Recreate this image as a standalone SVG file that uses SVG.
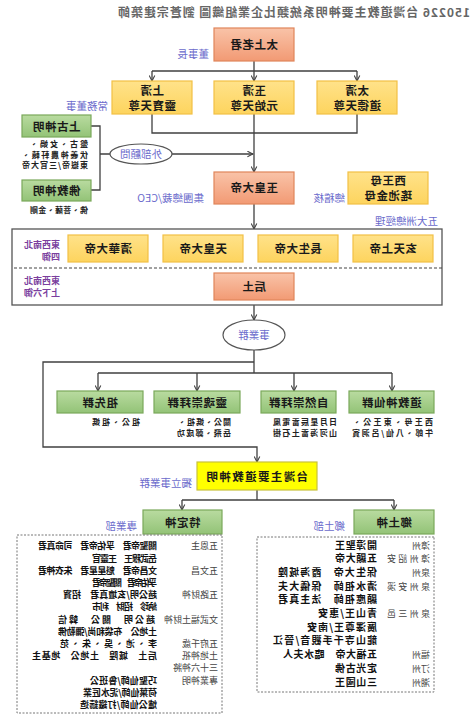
<svg xmlns="http://www.w3.org/2000/svg" width="474" height="719" viewBox="0 0 474 719">
<style>
text{font-family:"Noto Sans CJK TC","Noto Sans CJK SC",sans-serif}
.t{font-size:11.5px;font-weight:700;fill:#1a1a1a;text-anchor:middle;letter-spacing:0.5px}
.lbl{font-size:10.5px;fill:#6b6bcc}
.pur{font-size:9px;fill:#7b3f9e;font-weight:700}
.sm{font-size:8px;font-weight:700;fill:#222}
.cat{font-size:9px;fill:#444}
.it{font-size:9px;font-weight:700;fill:#111}
.rit{font-size:10px;font-weight:700;fill:#111}
.sal{fill:url(#gs);stroke:#e0855a;stroke-width:1.2}
.yel{fill:url(#gy);stroke:#f2c045;stroke-width:1.2}
.grn{fill:url(#gg);stroke:#7aa85a;stroke-width:1.2}
.ln{fill:none;stroke:#404040;stroke-width:1.3}
.ar{marker-end:url(#ah)}
.ell{fill:#fff;stroke:#555;stroke-width:1.2}
.dot{fill:none;stroke:#777;stroke-width:1;stroke-dasharray:2 1.5}
</style>
<defs>
<linearGradient id="gs" x1="0" y1="0" x2="0" y2="1"><stop offset="0" stop-color="#f9c3a8"/><stop offset="1" stop-color="#f29a74"/></linearGradient>
<linearGradient id="gy" x1="0" y1="0" x2="0" y2="1"><stop offset="0" stop-color="#ffe28a"/><stop offset="1" stop-color="#fdd45e"/></linearGradient>
<linearGradient id="gg" x1="0" y1="0" x2="0" y2="1"><stop offset="0" stop-color="#b9dba0"/><stop offset="1" stop-color="#93c377"/></linearGradient>
<marker id="ah" viewBox="0 0 10 10" refX="9" refY="5" markerWidth="7" markerHeight="7" orient="auto" markerUnits="userSpaceOnUse"><path d="M1,1 L9,5 L1,9" fill="none" stroke="#404040" stroke-width="1.5"/></marker>
</defs>
<rect x="0" y="0" width="474" height="719" fill="#fff"/>
<g transform="matrix(-1 0 0 1 474 0)">
<text id="title" x="4" y="17" font-size="12" font-weight="700" fill="#666" textLength="352" lengthAdjust="spacing">150226 台灣道教主要神明系統類比企業組織圖 劉蒼宗建築師</text>

<g id="connectors">
<path class="ln" d="M220,61 V71 M117,71 H322"/>
<path class="ln ar" d="M117,71 V81"/>
<path class="ln ar" d="M220,71 V81"/>
<path class="ln ar" d="M322,71 V81"/>
<path class="ln" d="M117,114 V133 H322 V114"/>
<path class="ln ar" d="M220,114 V172"/>
<path class="ln" d="M383,126 H374 V190 H383 M374,154 H364"/>
<path class="ln ar" d="M302,154 H221"/>
<path class="ln ar" d="M220,204 V229"/>
<path class="ln ar" d="M220,305 V320"/>
<path class="ln" d="M220,350 V373 M82,373 H376"/>
<path class="ln ar" d="M82,373 V391"/>
<path class="ln ar" d="M180,373 V391"/>
<path class="ln ar" d="M277,373 V391"/>
<path class="ln ar" d="M376,373 V391"/>
<path class="ln ar" d="M220,362 H431 V447 H217 V462"/>
<path class="ln" d="M217,490 V500 M80,500 H292"/>
<path class="ln ar" d="M80,500 V510"/>
<path class="ln ar" d="M292,500 V510"/>
</g>

<g id="labels">
<text class="lbl" x="265" y="58">董事長</text>
<text class="lbl" x="366" y="110">常務董事</text>
<text class="lbl" x="270" y="202">集團總裁/CEO</text>
<text class="lbl" x="129" y="202">總稽核</text>
<text class="lbl" x="36" y="225">五大洲總經理</text>
<text class="lbl" x="282" y="487">獨立事業群</text>
<text class="lbl" x="337" y="530">專業部</text>
<text class="lbl" x="129" y="530">鄉土部</text>
</g>

<g id="n-taishang"><rect class="sal" x="180" y="28" width="80" height="33"/><text class="t" x="220" y="49">太上老君</text></g>
<g id="n-taiqing"><rect class="yel" x="77" y="81" width="80" height="33"/><text class="t" x="117" y="94.5">太清</text><text class="t" x="117" y="109.5">道德天尊</text></g>
<g id="n-yuqing"><rect class="yel" x="180" y="81" width="80" height="33"/><text class="t" x="220" y="94.5">玉清</text><text class="t" x="220" y="109.5">元始天尊</text></g>
<g id="n-shangqing"><rect class="yel" x="282" y="81" width="80" height="33"/><text class="t" x="322" y="94.5">上清</text><text class="t" x="322" y="109.5">靈寶天尊</text></g>

<g id="n-shanggu"><rect class="grn" x="383" y="115" width="69" height="22"/><text class="t" x="417.5" y="130.5">上古神明</text>
<text class="sm" x="386" y="147" textLength="58" lengthAdjust="spacing">盤古、女媧、</text>
<text class="sm" x="386" y="157.5" textLength="66" lengthAdjust="spacing">伏羲神農軒轅、</text>
<text class="sm" x="386" y="168" textLength="66" lengthAdjust="spacing">東嶽帝/三官大帝</text></g>
<g id="n-fojiao"><rect class="grn" x="383" y="180" width="69" height="21"/><text class="t" x="417.5" y="195">佛教神明</text>
<text class="sm" x="386" y="213" textLength="58" lengthAdjust="spacing">佛、菩薩、金剛</text></g>
<g id="n-waibu"><ellipse class="ell" cx="333" cy="154" rx="31" ry="10"/><text class="lbl" x="333" y="157.5" text-anchor="middle">外部顧問</text></g>

<g id="n-yuhuang"><rect class="sal" x="180" y="172" width="80" height="32"/><text class="t" x="220" y="192">玉皇大帝</text></g>
<g id="n-xiwangmu"><rect class="yel" x="46" y="172" width="80" height="32"/><text class="t" x="86" y="184.5">西王母</text><text class="t" x="86" y="200">瑤池金母</text></g>

<g id="n-liuyu">
<rect x="32" y="229" width="430" height="76" fill="#fff" stroke="#555" stroke-width="1.3"/>
<line x1="32" y1="268" x2="462" y2="268" stroke="#444" stroke-width="1.2" stroke-dasharray="3 2"/>
<text class="pur" x="414" y="248">東西南北</text><text class="pur" x="414" y="260">四御</text>
<text class="pur" x="414" y="283.5">東西南北</text><text class="pur" x="414" y="295.5">上下六御</text>
</g>
<g id="n-qinghua"><rect class="yel" x="326" y="235" width="80" height="27"/><text class="t" x="366" y="253">清華大帝</text></g>
<g id="n-tianhuang"><rect class="yel" x="231" y="235" width="80" height="27"/><text class="t" x="271" y="253">天皇大帝</text></g>
<g id="n-changsheng"><rect class="yel" x="136" y="235" width="80" height="27"/><text class="t" x="176" y="253">長生大帝</text></g>
<g id="n-xuantian"><rect class="yel" x="41" y="235" width="80" height="27"/><text class="t" x="81" y="253">玄天上帝</text></g>
<g id="n-houtu"><rect class="sal" x="180" y="273" width="80" height="27"/><text class="t" x="220" y="291">后土</text></g>

<g id="n-shiyequn"><ellipse class="ell" cx="220" cy="335" rx="31" ry="15"/><text class="lbl" x="220" y="339" text-anchor="middle">事業群</text></g>

<g id="n-daojiao"><rect class="grn" x="40" y="391" width="85" height="22"/><text class="t" x="82.5" y="406.5">道教神仙群</text>
<text class="sm" x="41" y="424.5" textLength="80" lengthAdjust="spacing">西王母、東王公、</text>
<text class="sm" x="41" y="435.5" textLength="81" lengthAdjust="spacing">牛郎、八仙/呂洞賓</text></g>
<g id="n-ziran"><rect class="grn" x="138" y="391" width="75" height="22"/><text class="t" x="175.5" y="406.5">自然崇拜群</text>
<text class="sm" x="137" y="424.5" textLength="64" lengthAdjust="spacing">日月星辰雷電風</text>
<text class="sm" x="137" y="435.5" textLength="64" lengthAdjust="spacing">山河海雷土石樹</text></g>
<g id="n-linghun"><rect class="grn" x="234" y="391" width="86" height="22"/><text class="t" x="277" y="406.5">靈魂崇拜群</text>
<text class="sm" x="243" y="424.5" textLength="53" lengthAdjust="spacing">關公、媽祖、</text>
<text class="sm" x="243" y="435.5" textLength="54" lengthAdjust="spacing">岳飛、鄭成功</text></g>
<g id="n-zuxian"><rect class="grn" x="331" y="391" width="86" height="22"/><text class="t" x="374" y="406.5">祖先群</text>
<text class="sm" x="334" y="424.5" textLength="48" lengthAdjust="spacing">祖公、祖媽</text></g>

<g id="n-taiwan"><rect x="157" y="462" width="120" height="28" fill="#ffff00" stroke="#c9c23a" stroke-width="1.2"/><text class="t" x="217" y="480.5" textLength="102" lengthAdjust="spacing">台灣主要道教神明</text></g>

<g id="n-teding"><rect class="grn" x="252" y="510" width="79" height="24"/><text class="t" x="291.5" y="526.5">特定神</text>
<rect class="dot" x="252" y="535" width="205" height="178"/>
<text class="cat" x="256" y="549.3">五恩主</text><text class="it" x="317" y="549.3" textLength="119" lengthAdjust="spacing">關聖帝君　孚佑帝君　司命真君</text>
<text class="it" x="317" y="561.5" textLength="65" lengthAdjust="spacing">岳武穆王　王靈官</text>
<text class="cat" x="256" y="573.7">五文昌</text><text class="it" x="317" y="573.7" textLength="119" lengthAdjust="spacing">文昌帝君　魁星星君　朱衣神君</text>
<text class="it" x="317" y="585.9" textLength="65" lengthAdjust="spacing">孚佑帝君　關聖帝君</text>
<text class="cat" x="256" y="598.1">五路財神</text><text class="it" x="317" y="598.1" textLength="94" lengthAdjust="spacing">趙公明/玄壇真君　招寶</text>
<text class="it" x="317" y="610.3" textLength="65" lengthAdjust="spacing">納珍　招財　利市</text>
<text class="cat" x="256" y="622.5">文武福土財神</text><text class="it" x="319" y="622.5" textLength="97" lengthAdjust="spacing">趙公明　關公　韓信</text>
<text class="it" x="317" y="634.7" textLength="99" lengthAdjust="spacing">土地公　布袋和尚/彌勒佛</text>
<text class="cat" x="256" y="646.9">五府千歲</text><text class="it" x="317" y="646.9" textLength="97" lengthAdjust="spacing">李、池、吳、朱、范</text>
<text class="cat" x="256" y="659.1">土地神祇</text><text class="it" x="317" y="659.1" textLength="125" lengthAdjust="spacing">后土　城隍　土地公　地基主</text>
<text class="cat" x="256" y="671.3">三十六神將</text>
<text class="cat" x="256" y="683.5">專業神明</text><text class="it" x="317" y="683.5" textLength="67" lengthAdjust="spacing">巧聖仙師/魯班公</text>
<text class="it" x="317" y="695.7" textLength="74" lengthAdjust="spacing">荷葉仙師/泥水匠業</text>
<text class="it" x="317" y="707.9" textLength="77" lengthAdjust="spacing">爐公仙師/打鐵鑄造</text>
</g>

<g id="n-xiangtu"><rect class="grn" x="40" y="510" width="80" height="24"/><text class="t" x="80" y="526.5">鄉土神</text>
<rect class="dot" x="40" y="537" width="177" height="155"/>
<text class="cat" x="44" y="548.5">漳州</text><text class="rit" x="97" y="548.5" textLength="42" lengthAdjust="spacing">開漳聖王</text>
<text class="cat" x="44" y="562.2" textLength="43" lengthAdjust="spacing">漳州詔安</text><text class="rit" x="97" y="562.2" textLength="42" lengthAdjust="spacing">五顯大帝</text>
<text class="cat" x="44" y="575.9">泉州</text><text class="rit" x="97" y="575.9" textLength="99" lengthAdjust="spacing">保生大帝　霞海城隍</text>
<text class="cat" x="44" y="589.6" textLength="43" lengthAdjust="spacing">泉州安溪</text><text class="rit" x="97" y="589.6" textLength="99" lengthAdjust="spacing">清水祖師　保儀大夫</text>
<text class="rit" x="97" y="603.3" textLength="99" lengthAdjust="spacing">顯應祖師　法主真君</text>
<text class="cat" x="44" y="617" textLength="43" lengthAdjust="spacing">泉州三邑</text><text class="rit" x="97" y="617" textLength="59" lengthAdjust="spacing">青山王/惠安</text>
<text class="rit" x="97" y="630.7" textLength="70" lengthAdjust="spacing">廣澤尊王/南安</text>
<text class="rit" x="97" y="644.4" textLength="104" lengthAdjust="spacing">龍山寺千手觀音/晉江</text>
<text class="cat" x="44" y="658.1">福州</text><text class="rit" x="97" y="658.1" textLength="94" lengthAdjust="spacing">五福大帝　臨水夫人</text>
<text class="cat" x="44" y="671.8">汀州</text><text class="rit" x="97" y="671.8" textLength="42" lengthAdjust="spacing">定光古佛</text>
<text class="cat" x="44" y="685.5">潮州</text><text class="rit" x="97" y="685.5" textLength="42" lengthAdjust="spacing">三山國王</text>
</g>
</g>
</svg>
